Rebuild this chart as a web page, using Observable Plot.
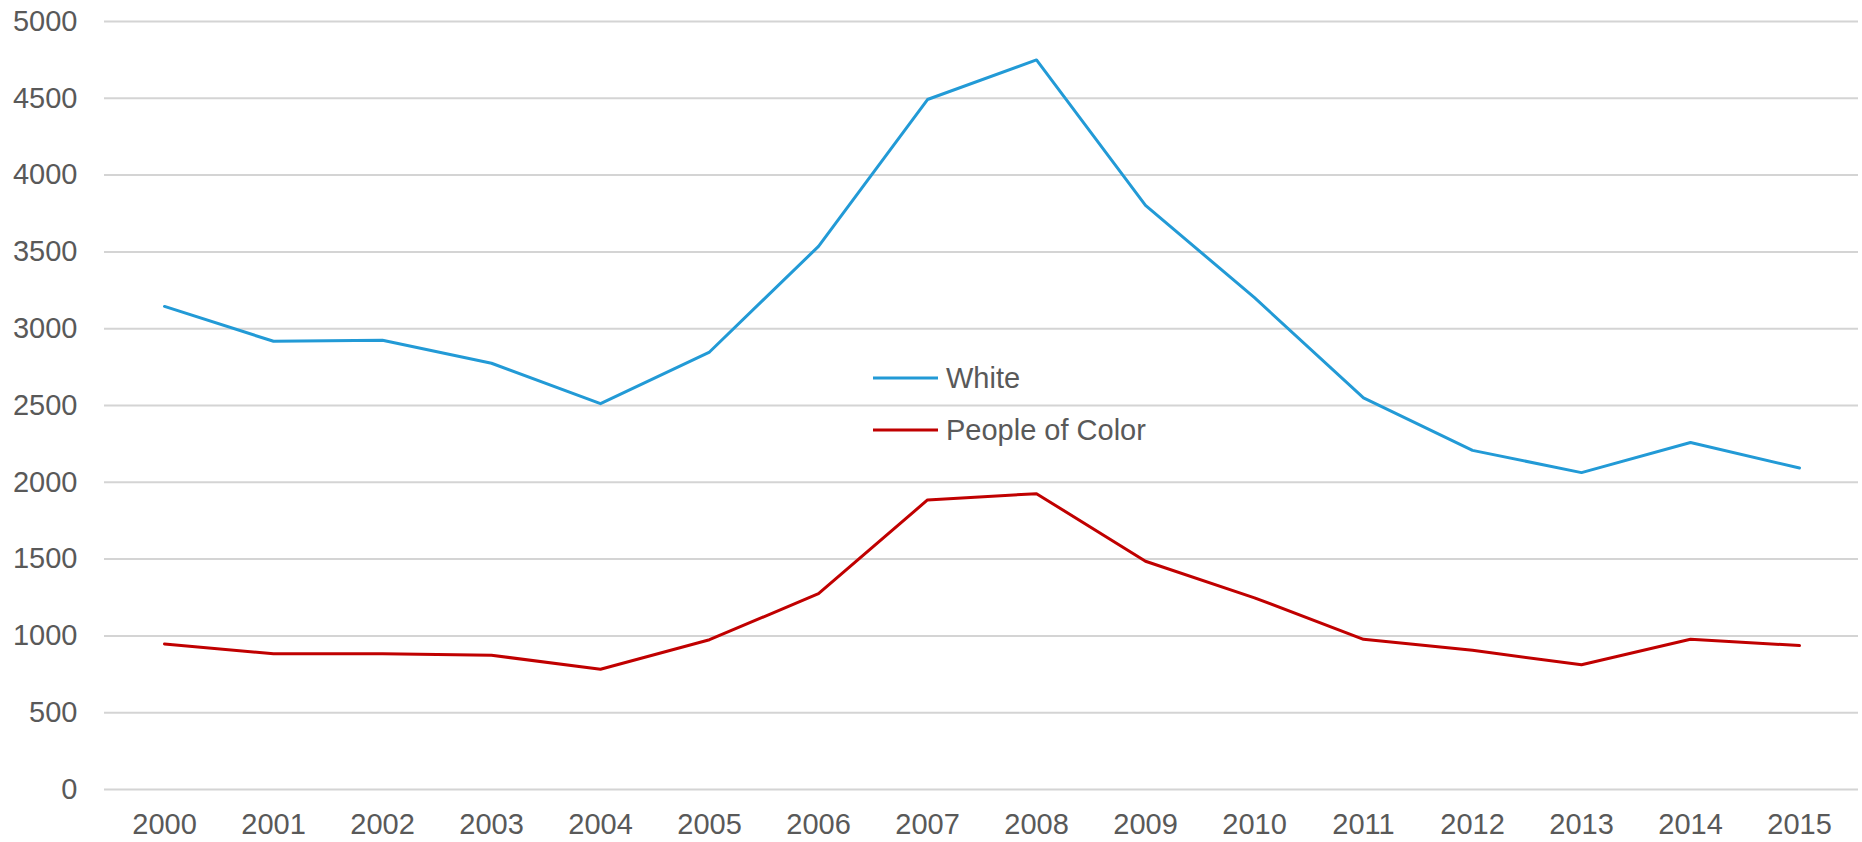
<!DOCTYPE html>
<html>
<head>
<meta charset="utf-8">
<script src="https://cdn.jsdelivr.net/npm/d3@7"></script>
<script src="https://cdn.jsdelivr.net/npm/@observablehq/plot@0.6"></script>
<style>
  html, body { margin: 0; padding: 0; background: #ffffff; }
  #wrap { position: relative; width: 1862px; height: 842px; font-family: "Liberation Sans", Arial, sans-serif; }
  #legend { position: absolute; left: 0; top: 0; pointer-events: none; }
</style>
</head>
<body>
<div id="wrap"></div>
<script>
const years = [2000, 2001, 2002, 2003, 2004, 2005, 2006, 2007, 2008, 2009, 2010, 2011, 2012, 2013, 2014, 2015];
const white = [3145, 2918, 2925, 2775, 2512, 2848, 3536, 4492, 4750, 3803, 3202, 2550, 2208, 2063, 2259, 2093];
const peopleOfColor = [948, 884, 884, 874, 783, 975, 1275, 1885, 1926, 1486, 1248, 978, 906, 812, 978, 937];
const seriesNames = ["White", "People of Color"];
const seriesColors = ["#229ad6", "#c00000"];
const yTicks = [0, 500, 1000, 1500, 2000, 2500, 3000, 3500, 4000, 4500, 5000];

const rows = [];
years.forEach((yr, i) => {
  rows.push({year: yr, value: white[i], series: seriesNames[0]});
  rows.push({year: yr, value: peopleOfColor[i], series: seriesNames[1]});
});

const textColor = "#595959";

const chart = Plot.plot({
  width: 1862,
  height: 842,
  marginLeft: 104,
  marginRight: 4,
  marginTop: 21,
  marginBottom: 53,
  style: {fontFamily: "'Liberation Sans', Arial, sans-serif", fontSize: "29px", color: textColor, background: "#ffffff", overflow: "visible"},
  x: {type: "point", domain: years, padding: 0.5, align: 0.5, label: null},
  y: {domain: [0, 5000], ticks: yTicks, label: null},
  color: {domain: seriesNames, range: seriesColors},
  marks: [
    Plot.ruleY(yTicks, {stroke: "#d4d4d4", strokeWidth: 2}),
    Plot.axisY({ticks: yTicks, tickSize: 0, tickPadding: 27, tickFormat: d => String(d), fill: textColor, fontSize: 29}),
    Plot.axisX({tickSize: 0, tickPadding: 24, tickFormat: d => String(d), fill: textColor, fontSize: 29}),
    Plot.line(rows, {x: "year", y: "value", stroke: "series", z: "series", strokeWidth: 3, strokeLinejoin: "round", curve: "linear"})
  ]
});

const wrap = document.getElementById("wrap");
wrap.appendChild(chart);

// Legend (inside plot area, as in the reference)
const ns = "http://www.w3.org/2000/svg";
const leg = document.createElementNS(ns, "svg");
leg.setAttribute("id", "legend");
leg.setAttribute("width", 1862);
leg.setAttribute("height", 842);
const legendItems = [
  {name: seriesNames[0], color: seriesColors[0], y: 378},
  {name: seriesNames[1], color: seriesColors[1], y: 430}
];
legendItems.forEach(it => {
  const ln = document.createElementNS(ns, "line");
  ln.setAttribute("x1", 873); ln.setAttribute("x2", 938);
  ln.setAttribute("y1", it.y); ln.setAttribute("y2", it.y);
  ln.setAttribute("stroke", it.color); ln.setAttribute("stroke-width", 3);
  leg.appendChild(ln);
  const tx = document.createElementNS(ns, "text");
  tx.setAttribute("x", 946); tx.setAttribute("y", it.y + 10);
  tx.setAttribute("fill", textColor);
  tx.setAttribute("font-size", 29);
  tx.setAttribute("font-family", "'Liberation Sans', Arial, sans-serif");
  tx.textContent = it.name;
  leg.appendChild(tx);
});
wrap.appendChild(leg);
</script>
</body>
</html>
